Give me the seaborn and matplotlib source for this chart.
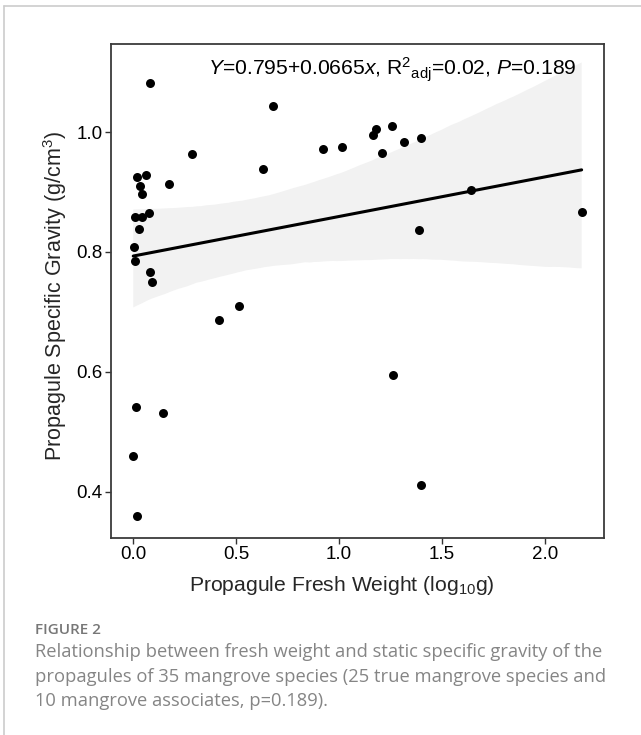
import numpy as np
import pandas as pd
import matplotlib
matplotlib.use("Agg")
import matplotlib.pyplot as plt
from matplotlib.lines import Line2D
import seaborn as sns

# data (log10 fresh weight, specific gravity)
fresh_weight_log = [0.081, 0.680, 0.284, 0.632, 0.019, 0.060, 0.033, 0.041, 0.175,
                    0.007, 0.041, 0.076, 0.028, 0.003, 0.008, 0.081, 0.089, 0.418,
                    0.515, 0.013, 0.146, 0.000, 0.019, 0.923, 1.013, 1.163, 1.179,
                    1.256, 1.207, 1.317, 1.397, 1.639, 1.388, 2.179, 1.260, 1.397]
specific_gravity = [1.082, 1.043, 0.963, 0.938, 0.925, 0.929, 0.910, 0.896, 0.914,
                    0.858, 0.858, 0.865, 0.839, 0.808, 0.785, 0.766, 0.750, 0.687,
                    0.710, 0.541, 0.531, 0.459, 0.360, 0.972, 0.975, 0.995, 1.006,
                    1.011, 0.965, 0.984, 0.990, 0.903, 0.837, 0.867, 0.594, 0.411]
x_ticks = [0.0, 0.5, 1.0, 1.5, 2.0]
y_ticks = [0.4, 0.6, 0.8, 1.0]
fit_label = (r"$\it{Y}$=0.795+0.0665$\it{x}$, R$^{2}{}_{\mathrm{adj}}$=0.02, "
             r"$\it{P}$=0.189")
caption_lines = [
    "Relationship between fresh weight and static specific gravity of the",
    "propagules of 35 mangrove species (25 true mangrove species and",
    "10 mangrove associates, p=0.189).",
]

df = pd.DataFrame({"weight": fresh_weight_log, "gravity": specific_gravity})

sns.set_style("ticks")
plt.rcParams["font.family"] = ["Liberation Sans", "DejaVu Sans"]
plt.rcParams["mathtext.fontset"] = "custom"
plt.rcParams["mathtext.rm"] = "Liberation Sans"
plt.rcParams["mathtext.it"] = "Liberation Sans:italic"

fig = plt.figure(figsize=(6.41, 7.35), dpi=100)
ax = fig.add_axes([0.1732, 0.2684, 0.7695, 0.6724])

sns.regplot(data=df, x="weight", y="gravity", ax=ax, color="black",
            n_boot=5000, seed=7,
            scatter_kws={"s": 42, "linewidths": 0, "alpha": 1, "zorder": 3},
            line_kws={"linewidth": 2.2, "zorder": 2})
# lighten the confidence band
for coll in ax.collections:
    if coll.__class__.__name__ in ("PolyCollection", "FillBetweenPolyCollection"):
        coll.set_facecolor("#f2f2f2")
        coll.set_edgecolor("none")
        coll.set_alpha(1)
        coll.set_zorder(1)

ax.set_xlim(-0.108, 2.289)
ax.set_ylim(0.323, 1.148)
ax.set_xticks(x_ticks)
ax.set_xticklabels([f"{t:.1f}" for t in x_ticks])
ax.set_yticks(y_ticks)
ax.set_yticklabels([f"{t:.1f}" for t in y_ticks])
ax.tick_params(axis="both", labelsize=13.5, length=4, width=1, color="#333333",
               labelcolor="black", pad=2)
for sp in ax.spines.values():
    sp.set_visible(True)
    sp.set_color("#3a3a3a")
    sp.set_linewidth(1.3)

ax.set_xlabel(r"Propagule Fresh Weight (log$_{10}$g)", fontsize=15.2)
ax.set_ylabel(r"Propagule Specific Gravity (g/cm$^{3}$)", fontsize=15.5)
ax.xaxis.set_label_coords(0.468, -0.0957)
ax.xaxis.label.set_verticalalignment("center")
ax.yaxis.set_label_coords(-0.1135, 0.489)
ax.yaxis.label.set_verticalalignment("center")

ax.text(0.945, 0.936, fit_label, transform=ax.transAxes, ha="right",
        va="baseline", fontsize=15.2, color="black", zorder=4)

# page frame lines
fig.add_artist(Line2D([4 / 641, 4 / 641], [0, 1 - 6 / 735], color="#cccccc", lw=1.2))
fig.add_artist(Line2D([4 / 641, 1], [1 - 6 / 735, 1 - 6 / 735], color="#cccccc", lw=1.2))

cap_font = ["Open Sans", "DejaVu Sans"]
fig.text(35 / 641, 1 - 630 / 735, "FIGURE 2", family=cap_font, fontsize=11,
         fontweight="semibold", color="#777777", va="center")
for i, line in enumerate(caption_lines):
    fig.text(35 / 641, 1 - (652 + 24.5 * i) / 735, line, family=cap_font,
             fontsize=13.2, color="#858585", va="center")

fig.savefig("out.png", dpi=100)
